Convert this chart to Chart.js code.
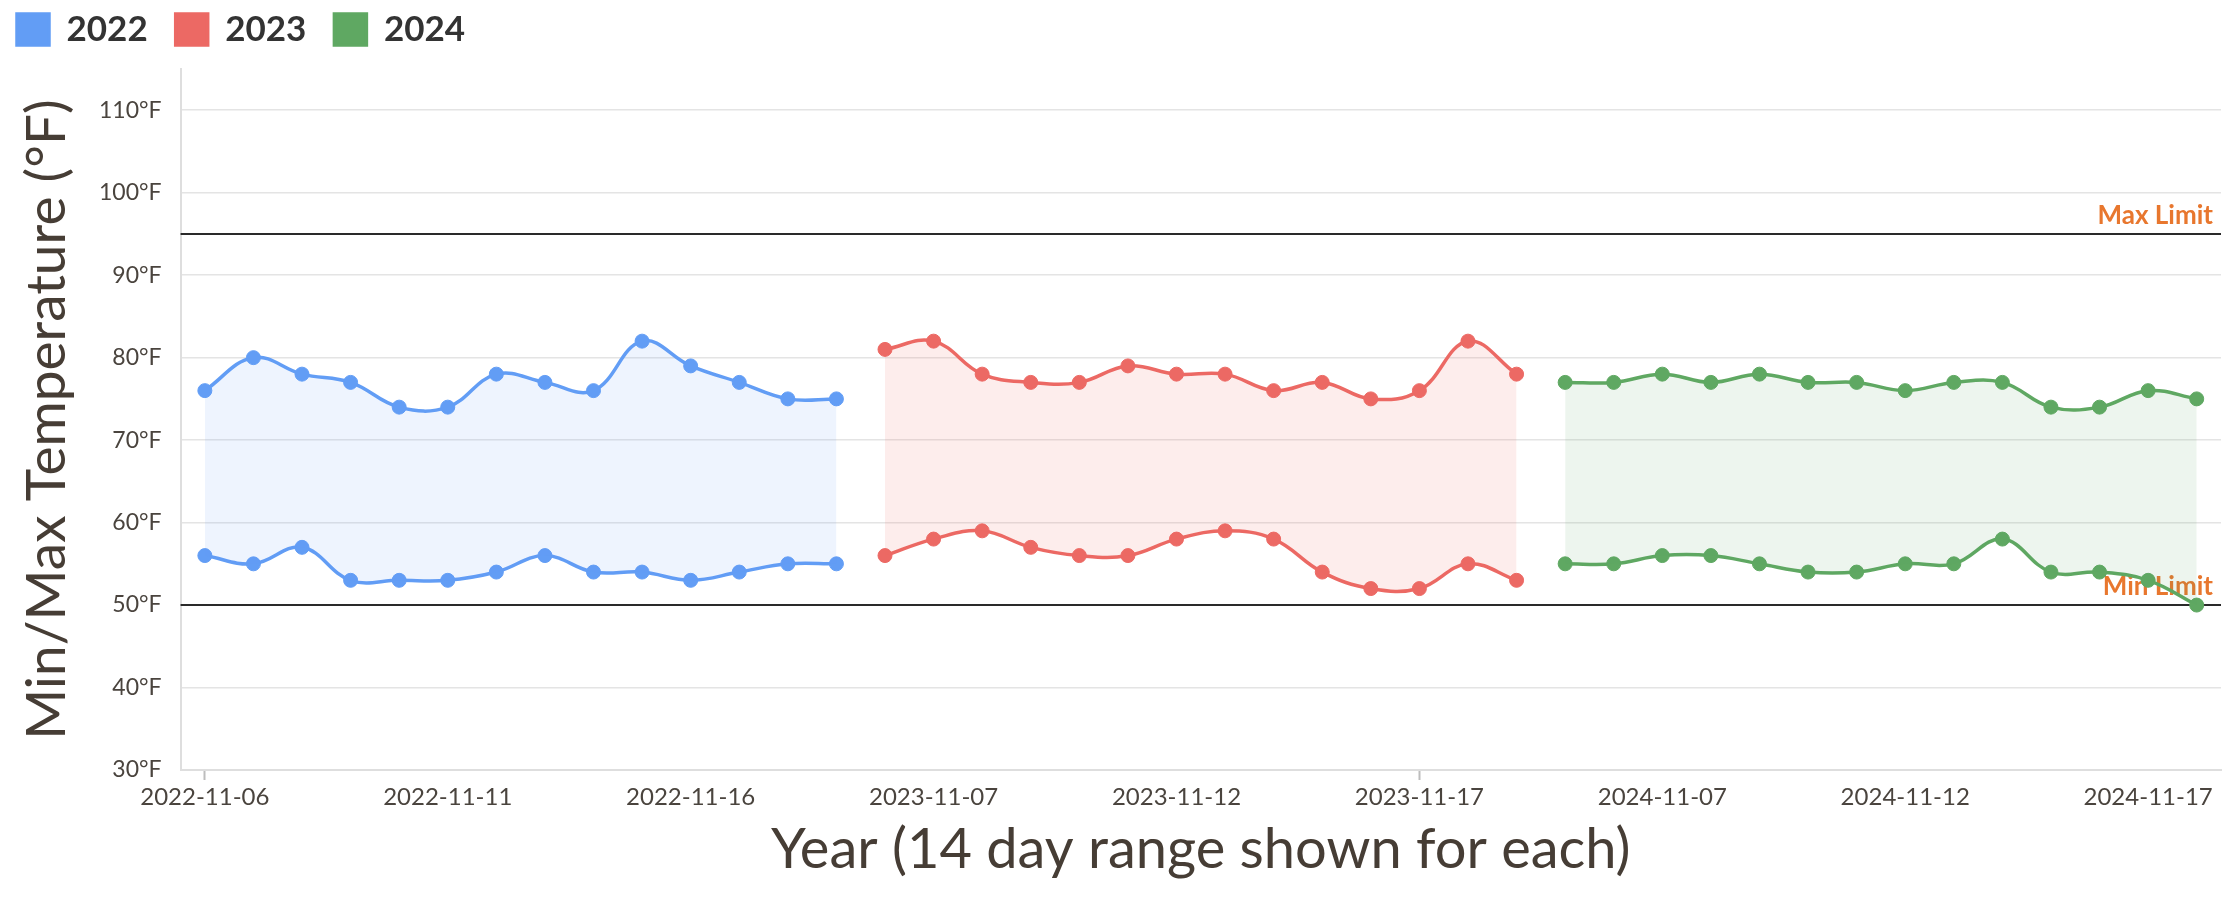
<!DOCTYPE html>
<html>
<head>
<meta charset="utf-8">
<title>Min/Max Temperature</title>
<script src="https://cdn.jsdelivr.net/npm/chart.js@4.4.1/dist/chart.umd.min.js"></script>
<style>
  html, body { margin: 0; padding: 0; background: #fff; }
  #wrap { width: 2236px; height: 902px; position: relative; }
</style>
</head>
<body>
<div id="wrap"><canvas id="tempChart"></canvas></div>
<script>
// 14 day windows, one per year
const days2022 = ["2022-11-06", "2022-11-07", "2022-11-08", "2022-11-09", "2022-11-10", "2022-11-11", "2022-11-12",
  "2022-11-13", "2022-11-14", "2022-11-15", "2022-11-16", "2022-11-17", "2022-11-18", "2022-11-19"];
const days2023 = ["2023-11-06", "2023-11-07", "2023-11-08", "2023-11-09", "2023-11-10", "2023-11-11", "2023-11-12",
  "2023-11-13", "2023-11-14", "2023-11-15", "2023-11-16", "2023-11-17", "2023-11-18", "2023-11-19"];
const days2024 = ["2024-11-05", "2024-11-06", "2024-11-07", "2024-11-08", "2024-11-09", "2024-11-10", "2024-11-11",
  "2024-11-12", "2024-11-13", "2024-11-14", "2024-11-15", "2024-11-16", "2024-11-17", "2024-11-18"];

const max2022 = [76, 80, 78, 77, 74, 74, 78, 77, 76, 82, 79, 77, 75, 75];
const min2022 = [56, 55, 57, 53, 53, 53, 54, 56, 54, 54, 53, 54, 55, 55];
const max2023 = [81, 82, 78, 77, 77, 79, 78, 78, 76, 77, 75, 76, 82, 78];
const min2023 = [56, 58, 59, 57, 56, 56, 58, 59, 58, 54, 52, 52, 55, 53];
const max2024 = [77, 77, 78, 77, 78, 77, 77, 76, 77, 77, 74, 74, 76, 75];
const min2024 = [55, 55, 56, 56, 55, 54, 54, 55, 55, 58, 54, 54, 53, 50];

const yTicks = [30, 40, 50, 60, 70, 80, 90, 100, 110];
const limitValues = [95, 50];
const limitLabels = ["Max Limit", "Min Limit"];

const labels = [...days2022, ...days2023, ...days2024];

const textColor = "#463d35";
const tickColor = "#4a443e";

function points(days, values) {
  return days.map((d, i) => ({ x: d, y: values[i] }));
}

function yearPair(year, days, maxVals, minVals, color, fillColor) {
  const common = {
    borderColor: color,
    backgroundColor: color,
    borderWidth: 3.5,
    pointRadius: 7,
    pointBorderWidth: 1,
    tension: 0.4,
  };
  return [
    {
      ...common,
      label: year,
      data: points(days, maxVals),
      fill: { target: "+1", above: fillColor, below: fillColor },
    },
    {
      ...common,
      label: year + " min",
      data: points(days, minVals),
      fill: false,
    },
  ];
}

// horizontal limit lines, drawn behind the series
const limitLines = {
  id: "limitLines",
  beforeDatasetsDraw(chart) {
    const { ctx, chartArea, scales } = chart;
    ctx.save();
    limitValues.forEach((v, i) => {
      const y = scales.y.getPixelForValue(v);
      ctx.strokeStyle = "#2a2a2a";
      ctx.lineWidth = 2;
      ctx.beginPath();
      ctx.moveTo(chartArea.left, y);
      ctx.lineTo(chartArea.right, y);
      ctx.stroke();
      ctx.fillStyle = "#e8772e";
      ctx.font = "bold 26px Lato";
      ctx.textAlign = "right";
      ctx.textBaseline = "alphabetic";
      ctx.fillText(limitLabels[i], chartArea.right - 8, y - 10);
    });
    ctx.restore();
  },
};

// a bit more room between legend and plot
const legendGap = {
  id: "legendGap",
  beforeInit(chart) {
    const fit = chart.legend.fit;
    chart.legend.fit = function () {
      fit.call(this);
      this.height += 12;
    };
  },
};

Chart.defaults.font.family = "Lato";

new Chart(document.getElementById("tempChart"), {
  type: "line",
  data: {
    labels: labels,
    datasets: [
      ...yearPair("2022", days2022, max2022, min2022, "#629df5", "rgba(98, 157, 245, 0.11)"),
      ...yearPair("2023", days2023, max2023, min2023, "#ec6964", "rgba(236, 105, 100, 0.12)"),
      ...yearPair("2024", days2024, max2024, min2024, "#5fa862", "rgba(95, 168, 98, 0.11)"),
    ],
  },
  options: {
    responsive: true,
    maintainAspectRatio: false,
    animation: false,
    layout: { padding: { top: -16, left: -11, right: 15, bottom: 10 } },
    plugins: {
      tooltip: { enabled: false },
      legend: {
        position: "top",
        align: "start",
        labels: {
          boxWidth: 32,
          boxHeight: 31,
          padding: 28,
          color: "#333",
          font: { size: 35, weight: "bold" },
          filter: (item) => item.datasetIndex % 2 === 0,
        },
      },
    },
    scales: {
      x: {
        type: "category",
        offset: true,
        ticks: {
          autoSkip: false,
          maxRotation: 0,
          padding: 3,
          color: tickColor,
          font: { size: 24 },
          callback: function (value, index) {
            return index % 5 === 0 ? this.getLabelForValue(value) : null;
          },
        },
        grid: {
          drawOnChartArea: false,
          tickLength: 10,
          tickWidth: 2,
          tickColor: (c) => (c.index % 5 === 0 ? "#bdbdbd" : "transparent"),
        },
        border: { color: "#dedede", width: 2 },
        title: {
          display: true,
          text: "Year (14 day range shown for each)",
          color: textColor,
          font: { size: 56 },
          padding: { top: 2, bottom: 8 },
        },
      },
      y: {
        min: yTicks[0],
        max: 115,
        ticks: {
          stepSize: 10,
          padding: 19,
          color: tickColor,
          font: { size: 23 },
          callback: (v) => (yTicks.includes(v) ? v + "°F" : null),
        },
        grid: {
          drawTicks: false,
          lineWidth: 1.5,
          color: (c) => (c.tick && yTicks.includes(c.tick.value) ? "#e4e4e4" : "transparent"),
        },
        border: { color: "#dedede", width: 2 },
        title: {
          display: true,
          text: "Min/Max Temperature (°F)",
          color: textColor,
          font: { size: 55 },
          padding: { top: 25, bottom: 0 },
        },
      },
    },
  },
  plugins: [limitLines, legendGap],
});
</script>
</body>
</html>
